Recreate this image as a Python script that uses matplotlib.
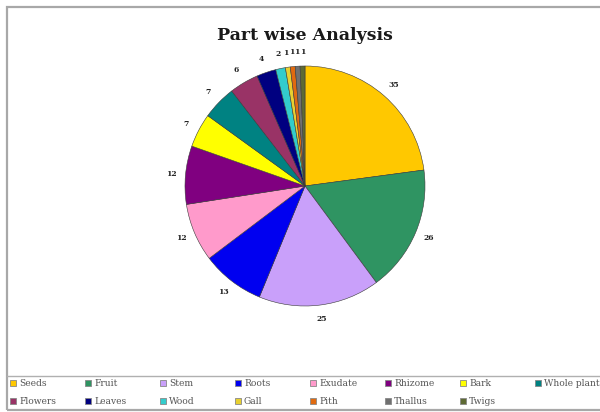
import matplotlib
matplotlib.use("Agg")
from matplotlib import pyplot as plt
from matplotlib.patches import Rectangle
from matplotlib.lines import Line2D

# %%
parts = ["Seeds", "Fruit", "Stem", "Roots", "Exudate", "Rhizome", "Bark", "Whole plant",
         "Flowers", "Leaves", "Wood", "Gall", "Pith", "Thallus", "Twigs"]
counts = [35, 26, 25, 13, 12, 12, 7, 7, 6, 4, 2, 1, 1, 1, 1]
colors = ["#FFC800", "#2F9462", "#C9A0FA", "#0000F0", "#FF9ACB", "#800080", "#FFFF00", "#008282",
          "#993366", "#000080", "#33CCCC", "#E8D030", "#E06A10", "#707070", "#5E6A34"]

# %%
W, H = 600, 412
fig = plt.figure(figsize=(W / 100, H / 100), dpi=100)
fig.patch.set_facecolor("white")

# chart frame + legend separator
fig.add_artist(Rectangle((7 / W, 2 / H), 1.0, (H - 9) / H, transform=fig.transFigure,
                         fill=False, edgecolor="#A8A8A8", linewidth=1.6))
fig.add_artist(Line2D([7 / W, 1.0], [1 - 376 / H, 1 - 376 / H], transform=fig.transFigure,
                      color="#B0B0B0", linewidth=1.0))

cx, cy, R = 305, 186, 120
ax = fig.add_axes([(cx - R) / W, (H - cy - R) / H, 2 * R / W, 2 * R / H])
wedges, texts = ax.pie(counts, colors=colors, labels=[str(c) for c in counts],
                       startangle=90, counterclock=False, labeldistance=1.12,
                       wedgeprops=dict(edgecolor="#3A3A3A", linewidth=0.4),
                       textprops=dict(fontsize=5.5, fontweight="bold",
                                      family="DejaVu Serif", color="#222222"))
for t in texts:
    t.set_ha("center")
    t.set_va("center")
ax.set_xlim(-1, 1)
ax.set_ylim(-1, 1)

fig.text(cx / W, 1 - 36 / H, "Part wise Analysis", ha="center", va="center",
         fontsize=12.5, fontweight="bold", family="DejaVu Serif", color="#1A1A1A")

# legend, 8 columns
for i, (lab, col) in enumerate(zip(parts, colors)):
    r, c = divmod(i, 8)
    x0 = 10 + c * 75
    y0 = 383 + r * 18
    fig.add_artist(Rectangle((x0 / W, 1 - (y0 + 3) / H), 6 / W, 6 / H,
                             transform=fig.transFigure, facecolor=col,
                             edgecolor="#888888", linewidth=0.6))
    fig.text((x0 + 9) / W, 1 - y0 / H, lab, ha="left", va="center", fontsize=6.6,
             family="DejaVu Serif", color="#555555")

fig.savefig("out.png", dpi=100)
